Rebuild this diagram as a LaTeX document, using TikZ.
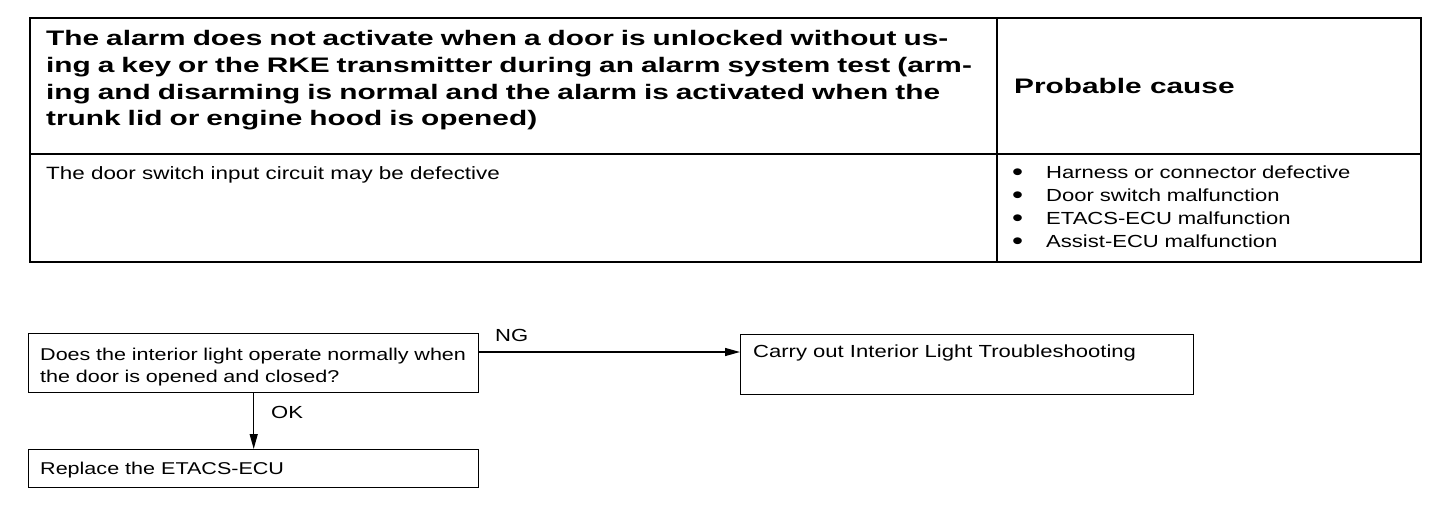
\documentclass[tikz,border=0pt]{standalone}
\usepackage{fontspec}
\setmainfont{Liberation Sans}[FakeStretch=1.26]
\newfontfamily\hdfont{Liberation Sans}[FakeStretch=1.42]
\newcommand{\blt}{\makebox[34pt][l]{\raisebox{-1.8pt}{\fontsize{25}{0}\selectfont•}}}
\usetikzlibrary{arrows.meta,calc}
\begin{document}
\begin{tikzpicture}[x=1pt,y=-1pt,
  frame/.style={line width=1.4pt},
  hdtext/.style={inner sep=0pt,anchor=base west,align=left,font=\hdfont\bfseries\fontsize{21}{26.7}\selectfont},
  bodytext/.style={inner sep=0pt,anchor=base west,align=left,font=\fontsize{17.5}{23}\selectfont},
  fbox/.style={draw,line width=1.4pt,inner sep=0pt},
  arr/.style={line width=1.3pt,-{Triangle[length=15pt,width=8pt]}},
  lbl/.style={inner sep=0pt,anchor=base west,font=\fontsize{17.5}{21}\selectfont}]
\useasboundingbox (0,0) rectangle (1456,506);
% table
\draw[frame] (30,18) rectangle (1421,262);
\draw[line width=1.2pt] (30,154) -- (1421,154);
\draw[line width=1.2pt] (997,18) -- (997,262);
\node[hdtext,text width=945pt] (title) at (46,45.7)
  {The alarm does not activate when a door is unlocked without us-\\
   ing a key or the RKE transmitter during an alarm system test (arm-\\
   ing and disarming is normal and the alarm is activated when the\\
   trunk lid or engine hood is opened)};
\node[hdtext] (cause) at (1014,93) {Probable cause};
\node[bodytext,font=\fontsize{17.8}{23}\selectfont] (symptom) at (46,179) {The door switch input circuit may be defective};
\node[bodytext,text width=400pt] (causes) at (1012,178.5)
  {\blt Harness or connector defective\\
   \blt Door switch malfunction\\
   \blt ETACS-ECU malfunction\\
   \blt Assist-ECU malfunction};
% flowchart boxes
\node[fbox,minimum width=450pt,minimum height=59pt,anchor=north west] (q) at (28,333) {};
\node[bodytext,text width=440pt,font=\fontsize{17.1}{22.5}\selectfont] (qt) at (40,360)
  {Does the interior light operate normally when\\the door is opened and closed?};
\node[fbox,minimum width=453pt,minimum height=60pt,anchor=north west] (ng) at (740,334) {};
\node[bodytext] (ngt) at (753,357) {Carry out Interior Light Troubleshooting};
\node[fbox,minimum width=450pt,minimum height=38pt,anchor=north west] (rep) at (28,449) {};
\node[bodytext,font=\fontsize{17.1}{22.5}\selectfont] (rept) at (40,474) {Replace the ETACS-ECU};
% connectors
\draw[arr] ([yshift=-19pt]q.north east) -- ([yshift=-19pt]q.north east -| ng.west);
\node[lbl] (nglbl) at (495,341) {NG};
\draw[arr] (q.south) -- (rep.north);
\node[lbl] (oklbl) at (271,418) {OK};
\end{tikzpicture}
\end{document}
